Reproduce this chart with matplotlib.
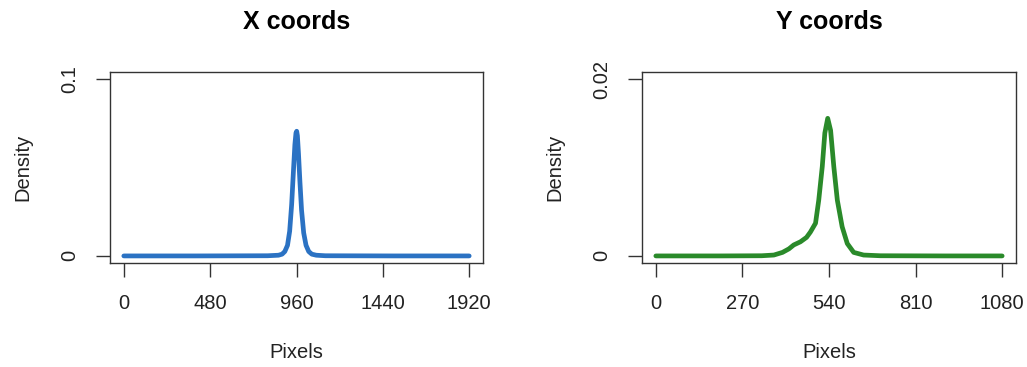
import matplotlib
matplotlib.use("Agg")
import matplotlib.pyplot as plt

plt.rcParams['font.family'] = ['Liberation Sans', 'DejaVu Sans']

# kernel density of gaze x coordinates (pixels)
x_px = [0, 400, 800, 860, 880, 895, 910, 922, 933, 943, 951, 957, 961,
        965, 971, 979, 988, 1000, 1013, 1028, 1045, 1070, 1120, 1500, 1920]
x_dens = [0, 0, 0.0001, 0.0004, 0.001, 0.0025, 0.006, 0.014, 0.029, 0.048,
          0.063, 0.0695, 0.0705, 0.068, 0.058, 0.042, 0.026, 0.013, 0.006,
          0.0025, 0.001, 0.0004, 0.0001, 0, 0]

# kernel density of gaze y coordinates (pixels)
y_px = [0, 200, 330, 368, 395, 415, 430, 451, 470, 482, 498, 508, 519,
        527, 536, 545, 555, 566, 581, 597, 617, 648, 700, 900, 1080]
y_dens = [0, 0, 0.00002, 0.0001, 0.0004, 0.0008, 0.00124, 0.0016, 0.0021,
          0.0027, 0.0037, 0.0063, 0.0101, 0.0139, 0.01556, 0.0142, 0.0101,
          0.0063, 0.0033, 0.0014, 0.0004, 0.0001, 0.00002, 0, 0]

panels = [
    ("X coords", x_px, x_dens, [0, 480, 960, 1440, 1920], 1920,
     [0, 0.1], ["0", "0.1"], "#2b72c3"),
    ("Y coords", y_px, y_dens, [0, 270, 540, 810, 1080], 1080,
     [0, 0.02], ["0", "0.02"], "#2a8a2a"),
]

fig = plt.figure(figsize=(10.27, 3.67), dpi=100)
lefts = [110 / 1027, 642 / 1027]
widths = [373 / 1027, 374 / 1027]

for (title, xs, ys, xticks, xmax, yticks, ylabels, color), left, w in zip(panels, lefts, widths):
    ax = fig.add_axes([left, 1 - 263 / 367, w, 191 / 367])
    ax.plot(xs, ys, color=color, lw=3.4, solid_capstyle='round')
    ymax = yticks[-1]
    ax.set_xlim(-0.04 * xmax, 1.04 * xmax)
    ax.set_ylim(-0.04 * ymax, 1.04 * ymax)
    ax.set_xticks(xticks)
    ax.set_xticklabels([str(t) for t in xticks])
    ax.set_yticks(yticks)
    ax.set_yticklabels(ylabels, rotation=90, va='center')
    ax.tick_params(direction='out', length=10, width=1, color='#333333',
                   labelsize=14.5, labelcolor='#222222')
    ax.tick_params(axis='x', pad=12)
    ax.tick_params(axis='y', pad=12)
    for s in ax.spines.values():
        s.set_color('#333333')
        s.set_linewidth(1)
    ax.set_title(title, fontsize=18, fontweight='bold', pad=31)
    ax.set_xlabel("Pixels", fontsize=14.5, labelpad=22, color='#222222')
    ax.set_ylabel("Density", fontsize=14.5, labelpad=20, color='#222222')

fig.savefig("out.png", dpi=100)
